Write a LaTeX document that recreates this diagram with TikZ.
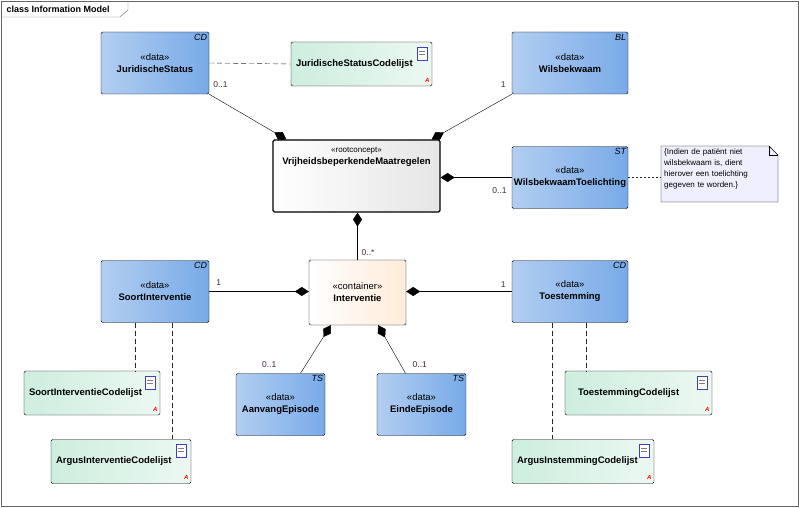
\documentclass[tikz,border=0pt]{standalone}
\usepackage{fontspec}
\setmainfont{Liberation Sans}
\usetikzlibrary{calc,arrows.meta}

\definecolor{datalight}{RGB}{178,206,242}
\definecolor{datadark}{RGB}{120,170,232}
\definecolor{codelight}{RGB}{205,238,222}
\definecolor{codedark}{RGB}{236,248,242}
\definecolor{notefill}{RGB}{238,238,252}
\definecolor{mult}{RGB}{60,40,60}

\tikzset{
    box/.style={draw, rounded corners=1.5pt, font=\fontsize{9.5}{12}\selectfont, align=center},
    data/.style={box, left color=datalight, right color=datadark, minimum width=108, minimum height=62, inner xsep=1pt},
    tag/.style={anchor=north east, font=\fontsize{9}{10}\selectfont\itshape, inner sep=2pt},
    codelist/.style={box, left color=codelight, right color=codedark, minimum height=44, text width=#1, align=left, inner xsep=5pt},
    owned/.style={-{Diamond[length=14pt, width=9pt]}, thin},
    trace/.style={dashed, dash pattern=on 5pt off 3pt, gray!30!black},
    mult/.style={font=\fontsize{8.5}{9}\selectfont, text=mult, inner sep=1pt}
}

\begin{document}
\begin{tikzpicture}[x=1pt, y=-1pt]
    \useasboundingbox (0,0) rectangle (800,508);
    % Frame
    \draw[gray!80!black] (1,1) rectangle (798,506);
    \draw[gray!80!black] (1,17) -- (120,17) -- (128,10) -- (128,1);
    \node[anchor=west, font=\fontsize{9}{10}\selectfont\bfseries] (title) at (3,9) {class Information Model};

    % Place nodes
    \node[box, very thick, left color=white, right color=gray!20, minimum width=167, minimum height=72] (root) at (356.5,176) {};
    \node[anchor=north, font=\fontsize{9.5}{12}\selectfont, align=center, inner sep=8pt] (roottext) at (root.north) {\fontsize{8}{10}\selectfont«rootconcept»\\\textbf{VrijheidsbeperkendeMaatregelen}};
    \node[data, label={[tag]north east:CD}] (js) at (155,63) {«data»\\\textbf{JuridischeStatus}};
    \node[data, minimum width=116, label={[tag]north east:BL}] (wb) at (570,63) {«data»\\\textbf{Wilsbekwaam}};
    \node[data, minimum width=116, label={[tag]north east:ST}] (wbt) at (570,177.5) {«data»\\\textbf{WilsbekwaamToelichting}};
    \node[data, label={[tag]north east:CD}] (si) at (155,291.5) {«data»\\\textbf{SoortInterventie}};
    \node[data, minimum width=116, label={[tag]north east:CD}] (ts) at (570,291.5) {«data»\\\textbf{Toestemming}};
    \node[box, left color=white, right color=orange!15, minimum width=97, minimum height=65] (iv) at (357.5,292.5) {«container»\\\textbf{Interventie}};
    \node[data, minimum width=89, label={[tag]north east:TS}] (ae) at (280.5,404.5) {«data»\\\textbf{AanvangEpisode}};
    \node[data, minimum width=89, label={[tag]north east:TS}] (ee) at (421.5,404.5) {«data»\\\textbf{EindeEpisode}};

    % Code lists
    \node[codelist=131pt] (jsc) at (361.5,64) {\textbf{JuridischeStatusCodelijst}\\[12pt]};
    \node[codelist=126pt] (sic) at (92,393) {\textbf{SoortInterventieCodelijst}\\[12pt]};
    \node[codelist=130pt] (aic) at (121,461.5) {\textbf{ArgusInterventieCodelijst}\\[12pt]};
    \node[codelist=137pt] (tsc) at (638.5,393) {\hspace*{8pt}\textbf{ToestemmingCodelijst}\\[12pt]};
    \node[codelist=132pt] (aisc) at (583,461.5) {\textbf{ArgusInstemmingCodelijst}\\[12pt]};
    \foreach \n in {jsc,sic,aic,tsc,aisc} {
        \draw[blue!50!gray, fill=white] ($(\n.north east)+(-15,5)$) rectangle +(10,13);
        \draw[gray] ($(\n.north east)+(-13,9)$) -- +(6,0) ($(\n.north east)+(-13,12)$) -- +(6,0);
        \node[text=red, font=\fontsize{6}{6}\selectfont\itshape\bfseries, inner sep=0pt] at ($(\n.south east)+(-5,-6)$) {A};
    }

    % Note
    \draw[fill=notefill] (661,146) -- (769,146) -- (778,155) -- (778,202) -- (661,202) -- cycle;
    \draw (769,146) -- (769,155) -- (778,155);
    \node[anchor=north west, text width=104pt, align=left, font=\fontsize{8}{11}\selectfont\raggedright, inner sep=3pt] (note) at (661,146) {\{Indien de patiënt niet\\wilsbekwaam is, dient\\hierover een toelichting\\gegeven te worden.\}};

    % Compositions
    \draw[owned] (js.south east) -- ($(root.north west)+(14,0)$);
    \draw[owned] (wb.south west) -- ($(root.north east)+(-9,0)$);
    \draw[owned] (wbt.west) -- (wbt.west -| root.east);
    \draw[owned] (iv.north) -- (iv.north |- root.south);
    \draw[owned] (si.east) -- (si.east -| iv.west);
    \draw[owned] (ts.west) -- (ts.west -| iv.east);
    \draw[owned] ($(ae.north)+(20,0)$) -- ($(iv.south west)+(22,0)$);
    \draw[owned] ($(ee.north)+(-16,0)$) -- ($(iv.south east)+(-28,0)$);

    % Multiplicities
    \node[mult, anchor=north west] at ($(js.south east)+(3,-14)$) {0..1};
    \node[mult, anchor=north east] at ($(wb.south west)+(-5,-14)$) {1};
    \node[mult, anchor=north east] at ($(wbt.west)+(-4,9)$) {0..1};
    \node[mult, anchor=south west] at ($(iv.north)+(3,-3)$) {0..*};
    \node[mult, anchor=south west] at ($(si.east)+(6,-5)$) {1};
    \node[mult, anchor=south east] at ($(ts.west)+(-5,-3)$) {1};
    \node[mult, anchor=south east] at ($(ae.north)+(-3,-5)$) {0..1};
    \node[mult, anchor=south west] at ($(ee.north)+(-10,-5)$) {0..1};

    % Code list links
    \draw[trace] (js.east) -- (jsc.west);
    \draw[trace] ($(si.south west)+(34,0)$) -- ($(sic.north west)+(111,0)$);
    \draw[trace] ($(si.south west)+(71,0)$) -- ($(aic.north west)+(121,0)$);
    \draw[trace] ($(ts.south west)+(40,0)$) -- ($(aisc.north west)+(40,0)$);
    \draw[trace] ($(ts.south west)+(74,0)$) -- ($(tsc.north west)+(21,0)$);
    \draw[trace, dash pattern=on 2pt off 2pt] (wbt.east) -- (wbt.east -| note.west);
\end{tikzpicture}
\end{document}
